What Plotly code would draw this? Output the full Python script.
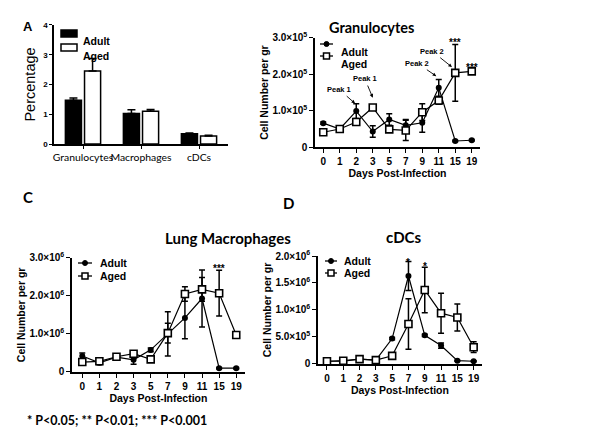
import plotly.graph_objects as go

# ---------------- data ----------------
# Panel A: percentage of cells
cell_types = ["Granulocytes", "Macrophages", "cDCs"]
pct_adult = [1.47, 1.03, 0.35]
pct_adult_err = [0.08, 0.12, 0.02]
pct_aged = [2.45, 1.10, 0.27]
pct_aged_err = [0.42, 0.06, 0.03]

# time-course panels (days are equally spaced categories)
days = ["0", "1", "2", "3", "5", "7", "9", "11", "15", "19"]
groups = ["Adult", "Aged"]

# Granulocytes (cells per gr)
gran_adult = [0.66e5, 0.50e5, 0.99e5, 0.43e5, 0.76e5, 0.60e5, 0.67e5, 1.63e5, 0.17e5, 0.19e5]
gran_adult_err = [0.03e5, 0.03e5, 0.20e5, 0.16e5, 0.16e5, 0.16e5, 0.26e5, 0.23e5, 0.02e5, 0.02e5]
gran_aged = [0.41e5, 0.50e5, 0.69e5, 1.09e5, 0.49e5, 0.46e5, 0.96e5, 1.28e5, 2.04e5, 2.08e5]
gran_aged_err = [0.05e5, 0.03e5, 0.05e5, 0.05e5, 0.05e5, 0.28e5, 0.23e5, 0.10e5, 0.78e5, 0.03e5]
gran_ticks = [0, 1.0e5, 2.0e5, 3.0e5]
gran_ticktext = ["0", "1.0×10<sup>5</sup>", "2.0×10<sup>5</sup>", "3.0×10<sup>5</sup>"]

# Lung macrophages
mac_adult = [0.42e6, 0.24e6, 0.39e6, 0.32e6, 0.58e6, 1.00e6, 1.42e6, 1.93e6, 0.10e6, 0.10e6]
mac_adult_err = [0.08e6, 0.05e6, 0.05e6, 0.12e6, 0.05e6, 0.58e6, 0.55e6, 0.75e6, 0.02e6, 0.02e6]
mac_aged = [0.26e6, 0.28e6, 0.40e6, 0.48e6, 0.33e6, 1.02e6, 2.05e6, 2.17e6, 2.07e6, 0.97e6]
mac_aged_err = [0.05e6, 0.04e6, 0.05e6, 0.05e6, 0.04e6, 0.26e6, 0.19e6, 0.31e6, 0.60e6, 0.03e6]
mac_ticks = [0, 1.0e6, 2.0e6, 3.0e6]
mac_ticktext = ["0", "1.0×10<sup>6</sup>", "2.0×10<sup>6</sup>", "3.0×10<sup>6</sup>"]

# cDCs
cdc_adult = [0.05e6, 0.05e6, 0.09e6, 0.07e6, 0.47e6, 1.63e6, 0.53e6, 0.34e6, 0.06e6, 0.05e6]
cdc_adult_err = [0.01e6, 0.01e6, 0.01e6, 0.01e6, 0.02e6, 0.27e6, 0.02e6, 0.05e6, 0.01e6, 0.01e6]
cdc_aged = [0.05e6, 0.06e6, 0.09e6, 0.07e6, 0.15e6, 0.74e6, 1.37e6, 0.94e6, 0.86e6, 0.31e6]
cdc_aged_err = [0.01e6, 0.01e6, 0.01e6, 0.01e6, 0.02e6, 0.47e6, 0.42e6, 0.37e6, 0.25e6, 0.10e6]
cdc_ticks = [0, 0.5e6, 1.0e6, 1.5e6, 2.0e6]
cdc_ticktext = ["0", "5.0×10<sup>5</sup>", "1.0×10<sup>6</sup>", "1.5×10<sup>6</sup>", "2.0×10<sup>6</sup>"]

footnote = "* P<0.05; ** P<0.01; *** P<0.001"

# ---------------- figure ----------------
W, H = 600, 446
ARIAL = "Liberation Sans, Arial, sans-serif"
CALIBRI = "Lato, Open Sans, sans-serif"
idx = list(range(len(days)))

fig = go.Figure()

# Panel A bars
fig.add_trace(go.Bar(
    x=cell_types, y=pct_adult, name=groups[0], xaxis="x", yaxis="y",
    marker=dict(color="black", line=dict(color="black", width=1.5)),
    error_y=dict(type="data", array=pct_adult_err, arrayminus=[0] * 3, symmetric=False,
                 color="black", thickness=1.5, width=4)))
fig.add_trace(go.Bar(
    x=cell_types, y=pct_aged, name=groups[1], xaxis="x", yaxis="y",
    marker=dict(color="white", line=dict(color="black", width=1.5)),
    error_y=dict(type="data", array=pct_aged_err, arrayminus=[0] * 3, symmetric=False,
                 color="black", thickness=1.5, width=4)))


def add_pair(adult, adult_err, aged, aged_err, xa, ya):
    fig.add_trace(go.Scatter(
        x=idx, y=adult, name=groups[0], xaxis=xa, yaxis=ya, mode="lines+markers",
        line=dict(color="black", width=1.2),
        marker=dict(symbol="circle", size=6, color="black"),
        error_y=dict(type="data", array=adult_err, color="black", thickness=1.5, width=3)))
    fig.add_trace(go.Scatter(
        x=idx, y=aged, name=groups[1], xaxis=xa, yaxis=ya, mode="lines+markers",
        line=dict(color="black", width=1.2),
        marker=dict(symbol="square", size=7, color="white", line=dict(color="black", width=1.6)),
        error_y=dict(type="data", array=aged_err, color="black", thickness=1.5, width=3)))


add_pair(gran_adult, gran_adult_err, gran_aged, gran_aged_err, "x2", "y2")
add_pair(mac_adult, mac_adult_err, mac_aged, mac_aged_err, "x3", "y3")
add_pair(cdc_adult, cdc_adult_err, cdc_aged, cdc_aged_err, "x4", "y4")

tickfont = dict(family=ARIAL, size=10, color="black", weight="bold")
titlefont = dict(family=ARIAL, size=10.5, color="black", weight="bold")
axis_common = dict(showline=True, linecolor="black", linewidth=1.5, ticks="outside",
                   tickcolor="black", tickwidth=1.3, ticklen=4, showgrid=False,
                   zeroline=False, mirror=False, fixedrange=True, automargin=False)

day_x = dict(axis_common, tickmode="array", tickvals=idx, ticktext=days, tickfont=tickfont,
             title=dict(text="Days Post-Infection", font=titlefont, standoff=3))

fig.update_layout(
    width=W, height=H, margin=dict(l=0, r=0, t=0, b=0, autoexpand=False),
    paper_bgcolor="white", plot_bgcolor="white", showlegend=False,
    barmode="group", bargap=0.34, bargroupgap=0.16,
    xaxis=dict(axis_common, domain=[0.09, 0.38], anchor="y", type="category", tickangle=0,
               ticklen=3, tickfont=dict(family=CALIBRI, size=10.4, color="black")),
    yaxis=dict(axis_common, domain=[0.677, 0.944], anchor="x", range=[0, 4], dtick=1,
               ticklen=3, tickfont=dict(family=ARIAL, size=8, color="black", weight="bold"),
               title=dict(text="Percentage", font=dict(family=ARIAL, size=14.5, color="black"),
                          standoff=4)),
    xaxis2=dict(day_x, domain=[0.525, 0.80], anchor="y2", range=[-0.5, 9.5]),
    yaxis2=dict(axis_common, domain=[0.670, 0.915], anchor="x2", range=[0, 3.0e5],
                tickmode="array", tickvals=gran_ticks, ticktext=gran_ticktext, tickfont=tickfont,
                title=dict(text="Cell Number per gr", font=titlefont, standoff=2)),
    xaxis3=dict(day_x, domain=[0.12, 0.408], anchor="y3", range=[-0.6, 9.5]),
    yaxis3=dict(axis_common, domain=[0.166, 0.422], anchor="x3", range=[0, 3.0e6],
                tickmode="array", tickvals=mac_ticks, ticktext=mac_ticktext, tickfont=tickfont,
                title=dict(text="Cell Number per gr", font=titlefont, standoff=2)),
    xaxis4=dict(day_x, domain=[0.530, 0.803], anchor="y4", range=[-0.55, 9.5]),
    yaxis4=dict(axis_common, domain=[0.184, 0.426], anchor="x4", range=[0, 2.0e6],
                tickmode="array", tickvals=cdc_ticks, ticktext=cdc_ticktext, tickfont=tickfont,
                title=dict(text="Cell Number per gr", font=titlefont, standoff=2)),
)

ann = []
shapes = []
px = lambda v: v / W
py = lambda v: 1 - v / H


def text(x, y, s, font, xref="paper", yref="paper", **kw):
    ann.append(dict(x=x, y=y, xref=xref, yref=yref, text=s, showarrow=False, font=font, **kw))


# ---- compact legends (GraphPad style) ----
legfont = dict(family=ARIAL, size=10.5, color="black", weight="bold")
# panel A: filled / open rectangles
for i, (ycen, fill) in enumerate([(33.5, "black"), (47.5, "white")]):
    shapes.append(dict(type="rect", xref="paper", yref="paper", x0=px(61), x1=px(77),
                       y0=py(ycen + 3.5), y1=py(ycen - 3.5), fillcolor=fill,
                       line=dict(color="black", width=1.5)))
    text(px(81), py(ycen), groups[i], legfont, xanchor="left")

# line panels: line + marker symbol
for (x0, x1, tx, ys) in [(320, 333, 339, (44, 56)), (78, 92, 98, (263, 276)),
                         (325, 337, 342, (261, 273))]:
    for i, ycen in enumerate(ys):
        shapes.append(dict(type="line", xref="paper", yref="paper", x0=px(x0), x1=px(x1),
                           y0=py(ycen), y1=py(ycen), line=dict(color="black", width=1.3)))
        xc = (x0 + x1) / 2
        if i == 0:
            shapes.append(dict(type="circle", xref="paper", yref="paper",
                               x0=px(xc - 2.5), x1=px(xc + 2.5), y0=py(ycen + 2.5), y1=py(ycen - 2.5),
                               fillcolor="black", line=dict(color="black", width=1)))
        else:
            shapes.append(dict(type="rect", xref="paper", yref="paper",
                               x0=px(xc - 3), x1=px(xc + 3), y0=py(ycen + 3), y1=py(ycen - 3),
                               fillcolor="white", line=dict(color="black", width=1.5)))
        text(px(tx), py(ycen), groups[i], legfont, xanchor="left")

boldcal = lambda sz: dict(family=CALIBRI, size=sz, color="black", weight="bold")
# panel letters
text(px(21), py(17), "A", dict(family=ARIAL, size=13, color="black", weight="bold"))
text(px(21), py(197), "C", boldcal(15))
text(px(288), py(203), "D", boldcal(15))
# panel titles
text(px(416), py(17), "Granulocytes", boldcal(14.5))
text(px(163), py(238), "Lung Macrophages", boldcal(15))
text(px(424), py(237), "cDCs", boldcal(15))
# footnote
text(px(25), py(430), footnote, boldcal(12.5), xanchor="left")

# significance stars
starfont = dict(family=ARIAL, size=10, color="black", weight="bold")
text(8, 1.03, "***", starfont, xref="x2", yref="y2 domain")
text(9, 0.80, "***", starfont, xref="x2", yref="y2 domain")
text(8, 0.975, "***", starfont, xref="x3", yref="y3 domain")
text(5, 1.01, "*", starfont, xref="x4", yref="y4 domain")
text(6, 0.975, "*", starfont, xref="x4", yref="y4 domain")

# peak labels with arrows
peakfont = dict(family=ARIAL, size=7.5, color="black", weight="bold")
for xi, yv, ax, ay, s in [(1.93, 1.20e5, -16, -14, "Peak 1"), (3.0, 1.36e5, -8, -19, "Peak 1"),
                          (6.85, 1.95e5, -19, -13, "Peak 2"), (7.8, 2.20e5, -20, -16, "Peak 2")]:
    ann.append(dict(x=xi, y=yv, xref="x2", yref="y2", text=s, showarrow=True, ax=ax, ay=ay,
                    font=peakfont, arrowhead=2, arrowsize=0.8, arrowwidth=0.9,
                    arrowcolor="black", standoff=0, startstandoff=1))

fig.update_layout(annotations=ann, shapes=shapes)
fig.write_html("out.html", config={"displayModeBar": False},
               post_script="document.body.style.margin='0';document.body.style.padding='0';")
